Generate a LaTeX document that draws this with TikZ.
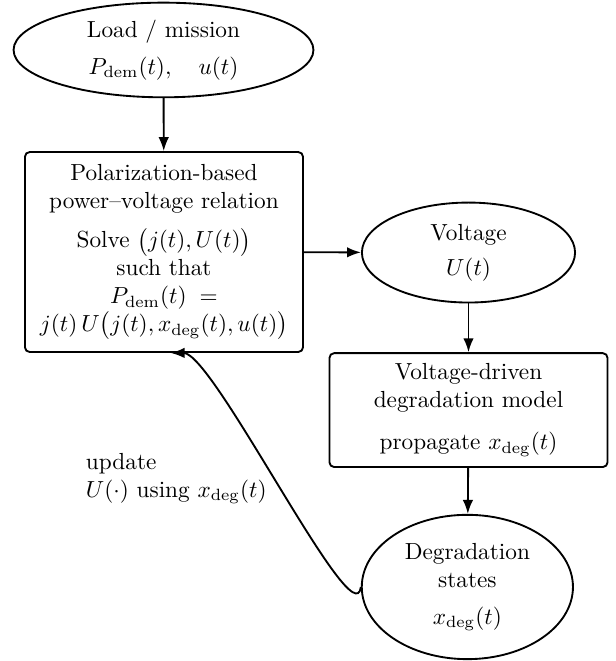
\documentclass[tikz,border=0pt]{standalone}
\usepackage{amsmath,amssymb}
\usepackage{tikz}
\usetikzlibrary{shapes.geometric,arrows.meta}

\begin{document}
\begin{tikzpicture}[>={Latex[length=6pt,width=4.5pt]}, thick]

    %--- Base styles for all nodes:
    \tikzstyle{oval node}=[draw, ellipse, inner sep=0pt, align=center]
    \tikzstyle{box node}=[draw, rectangle, rounded corners=2pt, inner sep=0pt, align=center, minimum width=4.2cm]

    \useasboundingbox (0,0) rectangle (9.305,9.985);

    %--- Left column (load, relation)
    \node[oval node, minimum width=4.53cm, minimum height=1.43cm] (load) at (2.47,9.23)
        {Load / mission\\[4pt] $P_{\mathrm{dem}}(t),\quad u(t)$};
    \node[box node, minimum height=3.02cm] (pol) at (2.477,6.178)
        {Polarization-based\\ power--voltage relation\\[5pt]
         Solve $\bigl(j(t),U(t)\bigr)$\\ such that\\ $P_{\mathrm{dem}}(t) \;=$\\
         $j(t)\,U\bigl(j(t),x_{\mathrm{deg}}(t),u(t)\bigr)$};

    %--- Right column (voltage, model, states)
    \node[oval node, minimum width=3.22cm, minimum height=1.51cm] (volt) at (7.077,6.17)
        {Voltage\\[3pt] $U(t)$};
    \node[box node, minimum height=1.72cm] (model) at (7.077,3.79)
        {Voltage-driven\\ degradation model\\[6pt] propagate $x_{\mathrm{deg}}(t)$};
    \node[oval node, minimum width=3.19cm, minimum height=2.18cm] (states) at (7.06,1.118)
        {Degradation\\ states\\[4pt] $x_{\mathrm{deg}}(t)$};

    %--- Feedback label
    \node[align=left, anchor=west] (upd) at (1.167,2.757)
        {update\\ $U(\cdot)$ using $x_{\mathrm{deg}}(t)$};

    %--- Forward arrows
    \draw[->] (load) -- (pol);
    \draw[->] (pol) -- (volt);
    \draw[->] (volt) -- (model);
    \draw[->] (model) -- (states);

    % Feedback
    \draw[->] (states.west) .. controls +(-0.1,-0.8) and +(0.65,0) .. ([xshift=0.1cm]pol.south);

\end{tikzpicture}
\end{document}
